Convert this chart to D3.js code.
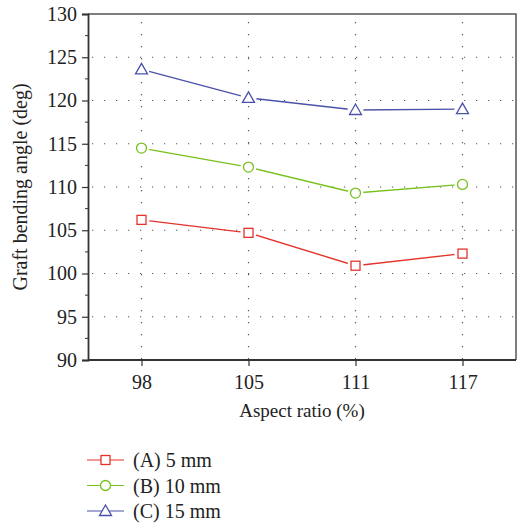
<!DOCTYPE html>
<html lang="en">
<head>
    <meta charset="UTF-8">
    <title></title>
    <style type="text/css">
        html, body { padding:0; margin:0; background:#fff; }
        text { font-family: "Liberation Serif", "DejaVu Serif", serif; fill:#222; }
    </style>
</head>
<body>
<script src="https://d3js.org/d3.v7.min.js"></script>
<script type="text/javascript">
    var width = 519,
        height = 523,
        plotLeft = 88, plotTop = 14, plotRight = 516, plotBottom = 360,
        fontSize = 20;

    var categories = ['98', '105', '111', '117'];
    var yTicks = [90, 95, 100, 105, 110, 115, 120, 125, 130];
    var seriesA = [106.2, 104.7, 100.9, 102.3];
    var seriesB = [114.5, 112.3, 109.3, 110.3];
    var seriesC = [123.6, 120.3, 118.9, 119.0];
    var seriesNames = ['(A) 5 mm', '(B) 10 mm', '(C) 15 mm'];

    var series = [
        {name: seriesNames[0], values: seriesA, color: '#e3332b', shape: 'square'},
        {name: seriesNames[1], values: seriesB, color: '#78c11d', shape: 'circle'},
        {name: seriesNames[2], values: seriesC, color: '#4b51a9', shape: 'triangle'}
    ];

    var svg = d3.select('body').append('svg')
        .attr('width', width)
        .attr('height', height);

    var xScale = d3.scalePoint().domain(categories).range([plotLeft, plotRight]).padding(0.5);
    var yScale = d3.scaleLinear().domain([90, 130]).range([plotBottom, plotTop]);

    // grid
    var grid = svg.append('g').attr('class', 'grid');
    grid.selectAll('line.h')
        .data(yTicks.slice(1, -1))
        .enter().append('line')
        .attr('x1', plotLeft + 4).attr('x2', plotRight)
        .attr('y1', function(d) { return yScale(d); })
        .attr('y2', function(d) { return yScale(d); })
        .attr('stroke', '#555')
        .attr('stroke-width', 1.2)
        .attr('stroke-dasharray', '1.2,10.8');
    grid.selectAll('line.v')
        .data(categories)
        .enter().append('line')
        .attr('x1', function(d) { return xScale(d); })
        .attr('x2', function(d) { return xScale(d); })
        .attr('y1', plotTop + 8).attr('y2', plotBottom)
        .attr('stroke', '#555')
        .attr('stroke-width', 1.2)
        .attr('stroke-dasharray', '1.2,10.8');

    // frame
    svg.append('path')
        .attr('d', 'M' + plotLeft + ',' + plotTop + 'H' + plotRight + 'V' + plotBottom)
        .attr('fill', 'none')
        .attr('stroke', '#555')
        .attr('stroke-width', 1.5);

    // axes
    var yAxis = d3.axisLeft(yScale).tickValues(yTicks).tickSize(6).tickPadding(5);
    var gy = svg.append('g')
        .attr('transform', 'translate(' + plotLeft + ',0)')
        .call(yAxis);
    gy.selectAll('.tick line').attr('stroke', '#333').attr('stroke-width', 1.2);
    gy.select('.domain').attr('stroke', '#333').attr('stroke-width', 1.8);
    gy.selectAll('.tick text').attr('font-size', fontSize).attr('fill', '#222')
        .style('font-family', '"Liberation Serif", serif');
    gy.selectAll('.minor')
        .data(d3.range(92.5, 130, 5))
        .enter().append('line')
        .attr('class', 'minor')
        .attr('x1', -3).attr('x2', 0)
        .attr('y1', function(d) { return yScale(d); })
        .attr('y2', function(d) { return yScale(d); })
        .attr('stroke', '#333');

    var xAxis = d3.axisBottom(xScale).tickSize(6).tickPadding(9);
    var gx = svg.append('g')
        .attr('transform', 'translate(0,' + plotBottom + ')')
        .call(xAxis);
    gx.select('.domain').attr('stroke', '#333').attr('stroke-width', 1.8)
        .attr('d', 'M' + plotLeft + ',0H' + plotRight);
    gx.selectAll('.tick line').attr('stroke', '#333').attr('stroke-width', 1.2);
    gx.selectAll('.tick text').attr('font-size', fontSize).attr('fill', '#222')
        .style('font-family', '"Liberation Serif", serif');

    // axis titles
    svg.append('text')
        .attr('transform', 'translate(27,' + ((plotTop + plotBottom) / 2) + ') rotate(-90)')
        .attr('text-anchor', 'middle')
        .attr('font-size', fontSize)
        .text('Graft bending angle (deg)');
    svg.append('text')
        .attr('x', 302)
        .attr('y', 417)
        .attr('text-anchor', 'middle')
        .attr('font-size', 19)
        .text('Aspect ratio (%)');

    var line = d3.line()
        .x(function(d, i) { return xScale(categories[i]); })
        .y(function(d) { return yScale(d); });

    function drawMarker(g, shape, color) {
        if (shape === 'square') {
            g.append('rect').attr('x', -4.5).attr('y', -4.5).attr('width', 9).attr('height', 9)
                .attr('fill', '#fff').attr('stroke', color).attr('stroke-width', 1.3);
        } else if (shape === 'circle') {
            g.append('circle').attr('r', 5)
                .attr('fill', '#fff').attr('stroke', color).attr('stroke-width', 1.3);
        } else {
            g.append('path').attr('d', 'M0,-6L6,4.5H-6Z')
                .attr('fill', '#fff').attr('stroke', color).attr('stroke-width', 1.3);
        }
    }

    series.forEach(function(s) {
        svg.append('path')
            .attr('d', line(s.values))
            .attr('fill', 'none')
            .attr('stroke', s.color)
            .attr('stroke-width', 1.4);
        s.values.forEach(function(v, i) {
            var g = svg.append('g')
                .attr('transform', 'translate(' + xScale(categories[i]) + ',' + yScale(v) + ')');
            g.append('circle').attr('r', 8).attr('fill', '#fff');
            drawMarker(g, s.shape, s.color);
        });
    });

    // legend
    var legend = svg.append('g').attr('transform', 'translate(87,460)');
    series.forEach(function(s, i) {
        var g = legend.append('g').attr('transform', 'translate(0,' + (i * 25.5) + ')');
        g.append('line').attr('x1', 0).attr('x2', 37).attr('stroke', s.color).attr('stroke-width', 1.2);
        var m = g.append('g').attr('transform', 'translate(18.5,0)');
        drawMarker(m, s.shape, s.color);
        g.append('text').attr('x', 46).attr('y', 7).attr('font-size', fontSize).text(s.name);
    });
</script>
</body>
</html>
